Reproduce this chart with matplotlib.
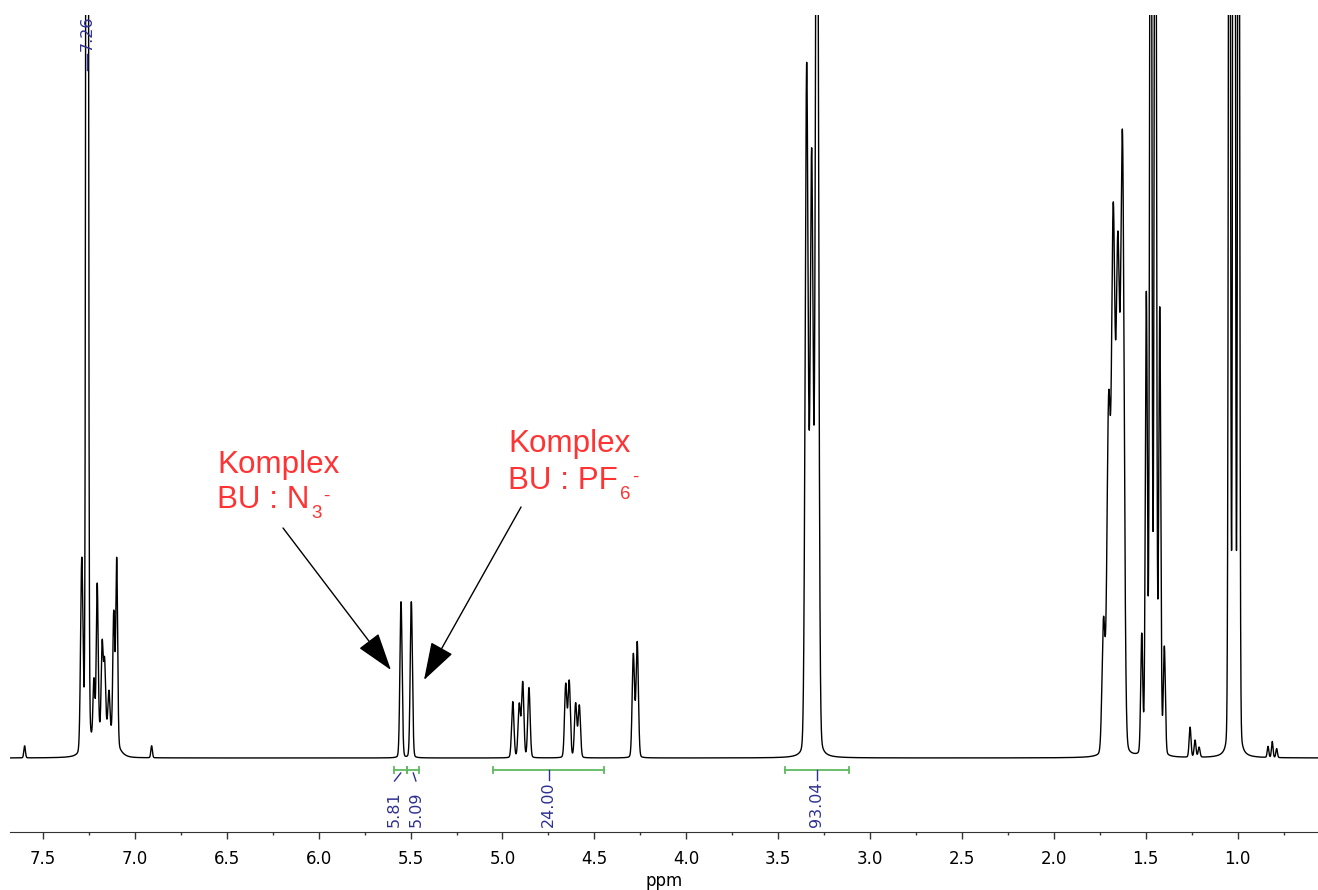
import numpy as np
import matplotlib
matplotlib.use("Agg")
import matplotlib.pyplot as plt
from matplotlib.patches import ArrowStyle
from matplotlib.ticker import MultipleLocator, FormatStrFormatter

# ---------------- data ----------------
# peak table: chemical shift (ppm), amplitude (arb.), line width FWHM (ppm)
peak_ppm = [7.600, 7.289, 7.260, 7.223, 7.205, 7.178, 7.165, 7.141,
            7.115, 7.099, 7.160, 6.909,
            5.552, 5.496,
            4.944, 4.909, 4.890, 4.856,
            4.656, 4.637, 4.602, 4.582,
            4.288, 4.267,
            3.345, 3.318, 3.289,
            1.730, 1.702, 1.677, 1.652, 1.627,
            1.522, 1.497, 1.473, 1.448, 1.424, 1.399,
            1.259, 1.232, 1.210,
            1.045, 1.020, 0.995,
            0.835, 0.812, 0.788]
peak_height = [12, 190, 2600, 60, 152, 85, 65, 38,
               125, 185, 30, 12,
               156, 156,
               56, 53, 75, 70,
               73, 76, 54, 52,
               103, 115,
               685, 590, 1100,
               130, 340, 520, 480, 605,
               118, 455, 1250, 1250, 440, 106,
               30, 17, 10,
               1380, 2760, 1380,
               11, 16, 9]
peak_width = [0.010, 0.015, 0.012, 0.012, 0.012, 0.012, 0.012, 0.012,
              0.012, 0.012, 0.110, 0.010,
              0.014, 0.014,
              0.015, 0.015, 0.015, 0.015,
              0.015, 0.015, 0.015, 0.015,
              0.015, 0.015,
              0.019, 0.019, 0.019,
              0.019, 0.022, 0.022, 0.022, 0.022,
              0.013, 0.013, 0.013, 0.013, 0.013, 0.013,
              0.012, 0.012, 0.012,
              0.0116, 0.0116, 0.0116,
              0.010, 0.010, 0.010]
lorentz_fraction = 0.09

solvent_label_ppm = 7.26
solvent_label = "7.26"

integral_start = [5.589, 5.518, 5.050, 3.463]
integral_end = [5.518, 5.453, 4.448, 3.115]
integral_values = ["5.81", "5.09", "24.00", "93.04"]
integral_label_ppm = [5.5875, 5.471, 4.749, 3.289]

annotation_title = ["Komplex", "Komplex"]
annotation_main = ["BU : N", "BU : PF"]
annotation_sub = ["3", "6"]
annotation_sup = ["-", "-"]
annotation_text_ppm = [6.553, 4.968]
annotation_line1_y = [285, 306]
annotation_line2_y = [250, 269]
arrow_tail = [(6.194, 230), (4.899, 251)]
arrow_tip = [(5.607, 88), (5.427, 78)]

tick_values = [7.5, 7.0, 6.5, 6.0, 5.5, 5.0, 4.5, 4.0, 3.5, 3.0, 2.5, 2.0, 1.5, 1.0]

# ---------------- spectrum from the peak table ----------------
xmin_ppm, xmax_ppm = 0.563, 7.6795
ppm = np.linspace(xmax_ppm, xmin_ppm, 60000)
c = np.asarray(peak_ppm)[:, None]
h = np.asarray(peak_height, dtype=float)[:, None]
w = np.asarray(peak_width)[:, None]
d = ppm[None, :] - c
gauss = np.exp(-4 * np.log(2) * d ** 2 / w ** 2)
lor = 1.0 / (1.0 + 4 * d ** 2 / w ** 2)
spectrum = (h * ((1 - lorentz_fraction) * gauss + lorentz_fraction * lor)).sum(axis=0)

# ---------------- figure ----------------
BLUE = "#2e3192"
GREEN = "#5fba5f"
RED = "#ff3333"
W, H = 1318, 890

fig = plt.figure(figsize=(W / 100, H / 100), dpi=100)
ax = fig.add_axes([10 / W, 58 / H, 1308 / W, 817 / H])
ax.plot(ppm, spectrum, color="black", lw=1.0)

ax.set_xlim(xmax_ppm, xmin_ppm)
ax.set_ylim(-74, 743)
for s in ("top", "left", "right"):
    ax.spines[s].set_visible(False)
ax.spines["bottom"].set_color("#333333")
ax.set_yticks([])
ax.set_xticks(tick_values)
ax.xaxis.set_major_formatter(FormatStrFormatter("%.1f"))
ax.xaxis.set_minor_locator(MultipleLocator(0.25))
ax.tick_params(axis="x", which="major", length=5, width=1, labelsize=12, pad=8,
               color="#333333")
ax.tick_params(axis="x", which="minor", length=2.5, width=1, color="#333333")
ax.set_xlabel("ppm", fontsize=12, labelpad=3)

# solvent peak label
ax.text(solvent_label_ppm, 743, solvent_label, rotation=90, ha="center", va="top",
        color=BLUE, fontsize=11.5, clip_on=False)
ax.plot([solvent_label_ppm, solvent_label_ppm], [688, 704], color=BLUE, lw=1)

# integrals
ybar = -12
for s0, s1, val, lx in zip(integral_start, integral_end, integral_values,
                           integral_label_ppm):
    ax.plot([s0, s1], [ybar, ybar], color=GREEN, lw=1.3, clip_on=False)
    ax.plot([s0, s0], [ybar - 3, ybar + 3], color=GREEN, lw=1.3, clip_on=False)
    ax.plot([s1, s1], [ybar - 3, ybar + 3], color=GREEN, lw=1.3, clip_on=False)
    mid = 0.5 * (s0 + s1)
    if abs(s0 - s1) > 0.2:
        ax.plot([mid, mid], [ybar, ybar - 10], color=BLUE, lw=1, clip_on=False)
    else:
        ax.plot([mid, lx], [ybar - 3, ybar - 11], color=BLUE, lw=1, clip_on=False)
    ax.text(lx, -69, val, rotation=90, ha="center", va="bottom", color=BLUE,
            fontsize=11.5, clip_on=False)

# red annotations with arrows
main_texts = []
for i in range(len(annotation_title)):
    ax.text(annotation_text_ppm[i], annotation_line1_y[i], annotation_title[i],
            color=RED, fontsize=22.6, family="Liberation Sans",
            ha="left", va="baseline")
    t = ax.text(annotation_text_ppm[i], annotation_line2_y[i], annotation_main[i],
                color=RED, fontsize=22.6, family="Liberation Sans",
                ha="left", va="baseline")
    main_texts.append(t)
    ax.annotate("", xy=arrow_tip[i], xytext=arrow_tail[i],
                arrowprops=dict(arrowstyle=ArrowStyle("-|>", head_length=0.4,
                                                      head_width=0.13),
                                mutation_scale=60, color="black", lw=1,
                                shrinkA=0, shrinkB=0))

# subscripts / superscripts placed after the measured text ends
fig.canvas.draw()
renderer = fig.canvas.get_renderer()
for i, t in enumerate(main_texts):
    bb = t.get_window_extent(renderer)
    base_y = ax.transData.transform((annotation_text_ppm[i], annotation_line2_y[i]))[1]
    st = fig.text((bb.x1 + 2) / W, (base_y - 10) / H, annotation_sub[i], color=RED,
                  fontsize=13.5, family="Liberation Sans", ha="left", va="baseline")
    sb = st.get_window_extent(renderer)
    fig.text((sb.x1 + 1) / W, (base_y + 7) / H, annotation_sup[i], color=RED,
             fontsize=13.5, family="Liberation Sans", ha="left", va="baseline")

fig.savefig("out.png", dpi=100)
